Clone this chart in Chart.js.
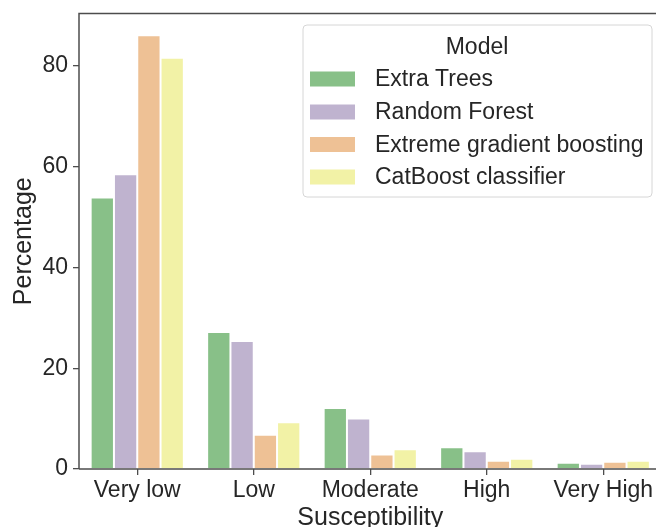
<!DOCTYPE html>
<html>
<head>
<meta charset="utf-8">
<script src="https://cdn.jsdelivr.net/npm/chart.js@4/dist/chart.umd.min.js"></script>
<style>
html,body{margin:0;padding:0;background:#fff;overflow:hidden;}
#wrap{width:672px;height:527px;}
</style>
</head>
<body>
<div id="wrap"><canvas id="c" width="672" height="527"></canvas></div>
<script>
const categories = ["Very low", "Low", "Moderate", "High", "Very High"];
const models = ["Extra Trees", "Random Forest", "Extreme gradient boosting", "CatBoost classifier"];
const extraTrees = [53.9, 27.2, 12.1, 4.3, 1.25];
const randomForest = [58.5, 25.4, 10.0, 3.5, 1.05];
const xgboost = [86.1, 6.8, 2.9, 1.65, 1.45];
const catboost = [81.6, 9.3, 3.9, 2.05, 1.65];
const yTicks = [0, 20, 40, 60, 80];
const colors = ["#88c088", "#bfb3cf", "#eec195", "#f2f2a6"];

const seriesValues = [extraTrees, randomForest, xgboost, catboost];
const FONT = "'Liberation Sans', Arial, sans-serif";
const TXT = "#262626";
const SPINE = "#4d4d4d";

const legendPlugin = {
  id: 'boxLegend',
  afterDraw(chart) {
    const ctx = chart.ctx;
    ctx.save();
    const x0 = 303, y0 = 25, x1 = 652, y1 = 197, r = 4;
    ctx.beginPath();
    ctx.moveTo(x0 + r, y0);
    ctx.lineTo(x1 - r, y0); ctx.quadraticCurveTo(x1, y0, x1, y0 + r);
    ctx.lineTo(x1, y1 - r); ctx.quadraticCurveTo(x1, y1, x1 - r, y1);
    ctx.lineTo(x0 + r, y1); ctx.quadraticCurveTo(x0, y1, x0, y1 - r);
    ctx.lineTo(x0, y0 + r); ctx.quadraticCurveTo(x0, y0, x0 + r, y0);
    ctx.closePath();
    ctx.fillStyle = 'rgba(255,255,255,0.8)';
    ctx.fill();
    ctx.strokeStyle = '#d6d6d6';
    ctx.lineWidth = 1;
    ctx.stroke();
    ctx.fillStyle = TXT;
    ctx.font = "23px " + FONT;
    ctx.textAlign = 'center';
    ctx.textBaseline = 'middle';
    ctx.fillText('Model', 477, 48);
    ctx.textAlign = 'left';
    const ys = [79, 112, 144.5, 177];
    chart.data.datasets.forEach((ds, i) => {
      ctx.fillStyle = ds.backgroundColor;
      ctx.fillRect(310, ys[i] - 7.5, 45, 15);
      ctx.fillStyle = TXT;
      ctx.fillText(ds.label, 375, ys[i] + 1);
    });
    ctx.restore();
  }
};

const spinePlugin = {
  id: 'spines',
  afterDatasetsDraw(chart) {
    const a = chart.chartArea, ctx = chart.ctx;
    ctx.save();
    ctx.strokeStyle = SPINE;
    ctx.lineWidth = 1.5;
    ctx.beginPath();
    ctx.moveTo(a.left, a.bottom); ctx.lineTo(a.left, a.top); ctx.lineTo(a.right + 20, a.top);
    ctx.moveTo(a.left, a.bottom); ctx.lineTo(a.right + 20, a.bottom);
    ctx.stroke();
    ctx.restore();
  }
};

new Chart(document.getElementById('c'), {
  type: 'bar',
  data: {
    labels: categories,
    datasets: models.map((m, i) => ({
      label: m,
      data: seriesValues[i],
      backgroundColor: colors[i],
      borderColor: '#ffffff',
      borderWidth: 1,
      categoryPercentage: 0.8,
      barPercentage: 1.0
    }))
  },
  options: {
    responsive: false,
    devicePixelRatio: 1,
    animation: false,
    layout: { padding: { left: 0, top: 13.5, right: 10.5, bottom: 0 } },
    plugins: { legend: { display: false }, tooltip: { enabled: false } },
    scales: {
      x: {
        offset: true,
        grid: { display: true, drawOnChartArea: false, offset: false, tickLength: 6, color: SPINE, lineWidth: 1.3 },
        border: { display: false },
        ticks: { color: TXT, font: { family: FONT, size: 23 }, padding: 2, maxRotation: 0 },
        title: { display: true, text: 'Susceptibility', color: TXT, font: { family: FONT, size: 25, lineHeight: 0.7 }, padding: { top: 0, bottom: 0 } },
        afterFit(s) { s.height = 58; s.paddingLeft = 0; s.paddingRight = 0; }
      },
      y: {
        min: 0,
        max: 90.4,
        grid: { display: true, drawOnChartArea: false, tickLength: 6, color: SPINE, lineWidth: 1.3 },
        border: { display: false },
        ticks: { color: TXT, font: { family: FONT, size: 23 }, padding: 5, stepSize: 20 },
        afterBuildTicks(s) { s.ticks = yTicks.map(v => ({ value: v })); },
        title: { display: true, text: 'Percentage', color: TXT, font: { family: FONT, size: 25, lineHeight: 1 }, padding: { top: 12, bottom: 0 } },
        afterFit(s) { s.width = 79; s.paddingTop = 0; s.paddingBottom = 0; }
      }
    }
  },
  plugins: [spinePlugin, legendPlugin]
});
</script>
</body>
</html>
